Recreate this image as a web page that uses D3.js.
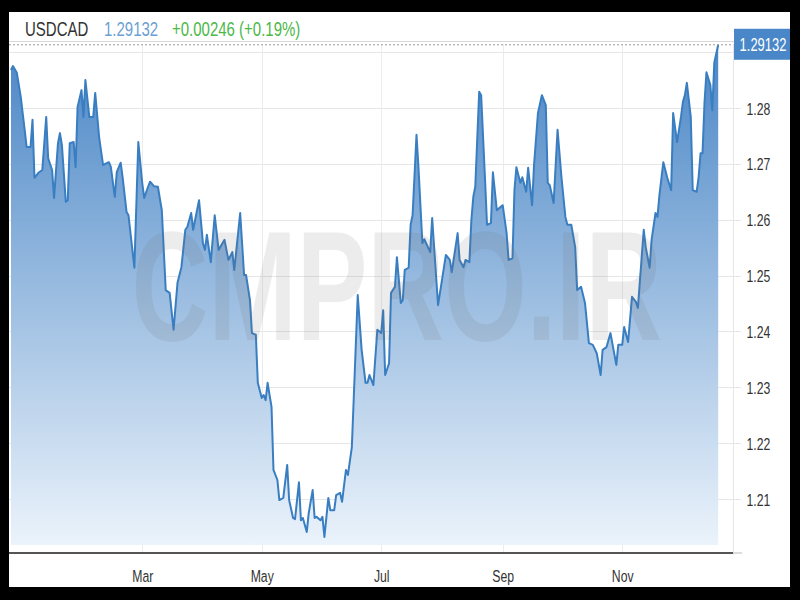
<!DOCTYPE html>
<html>
<head>
<meta charset="utf-8">
<script src="https://cdn.jsdelivr.net/npm/d3@7"></script>
<style>
  html, body { margin: 0; padding: 0; background: #000; }
  svg { display: block; }
  text { font-family: "Liberation Sans", Arial, sans-serif; }
</style>
</head>
<body>
<svg id="chart" width="800" height="600"></svg>
<script>
// ---------- DATA ----------
const symbol = "USDCAD";
const lastPrice = "1.29132";
const change = "+0.00246 (+0.19%)";

const dates = [
  "2020-12-24","2020-12-25","2020-12-27","2020-12-29","2020-12-31","2021-01-01","2021-01-03","2021-01-04","2021-01-05","2021-01-07",
  "2021-01-09","2021-01-11","2021-01-12","2021-01-14","2021-01-15","2021-01-17","2021-01-18","2021-01-19","2021-01-21","2021-01-22",
  "2021-01-23","2021-01-25","2021-01-26","2021-01-27","2021-01-29","2021-01-30","2021-01-31","2021-02-02","2021-02-04","2021-02-05",
  "2021-02-07","2021-02-09","2021-02-12","2021-02-13","2021-02-15","2021-02-16","2021-02-18","2021-02-19","2021-02-21","2021-02-22",
  "2021-02-25","2021-02-27","2021-03-01","2021-03-02","2021-03-04","2021-03-05","2021-03-07","2021-03-09","2021-03-11","2021-03-13",
  "2021-03-15","2021-03-17","2021-03-19","2021-03-21","2021-03-23","2021-03-24","2021-03-26","2021-03-27","2021-03-30","2021-04-01",
  "2021-04-02","2021-04-03","2021-04-05","2021-04-07","2021-04-09","2021-04-12","2021-04-14","2021-04-16","2021-04-17","2021-04-20",
  "2021-04-22","2021-04-23","2021-04-25","2021-04-26","2021-04-28","2021-04-29","2021-05-01","2021-05-02","2021-05-03","2021-05-04",
  "2021-05-06","2021-05-07","2021-05-09","2021-05-10","2021-05-12","2021-05-14","2021-05-15","2021-05-17","2021-05-18","2021-05-20",
  "2021-05-21","2021-05-22","2021-05-24","2021-05-25","2021-05-27","2021-05-28","2021-05-29","2021-05-31","2021-06-01","2021-06-02",
  "2021-06-04","2021-06-05","2021-06-07","2021-06-08","2021-06-10","2021-06-11","2021-06-13","2021-06-14","2021-06-16","2021-06-17",
  "2021-06-19","2021-06-21","2021-06-23","2021-06-24","2021-06-25","2021-06-27","2021-06-29","2021-07-01","2021-07-02","2021-07-03",
  "2021-07-05","2021-07-06","2021-07-08","2021-07-09","2021-07-11","2021-07-12","2021-07-13","2021-07-15","2021-07-16","2021-07-17",
  "2021-07-19","2021-07-20","2021-07-22","2021-07-23","2021-07-26","2021-07-27","2021-07-30","2021-08-01","2021-08-03","2021-08-05",
  "2021-08-06","2021-08-09","2021-08-10","2021-08-12","2021-08-13","2021-08-15","2021-08-16","2021-08-17","2021-08-18","2021-08-20",
  "2021-08-21","2021-08-23","2021-08-24","2021-08-26","2021-08-27","2021-08-29","2021-08-31","2021-09-01","2021-09-03","2021-09-04",
  "2021-09-06","2021-09-07","2021-09-08","2021-09-10","2021-09-11","2021-09-13","2021-09-14","2021-09-16","2021-09-17","2021-09-19",
  "2021-09-21","2021-09-23","2021-09-24","2021-09-25","2021-09-27","2021-09-29","2021-10-01","2021-10-03","2021-10-04","2021-10-06",
  "2021-10-08","2021-10-09","2021-10-11","2021-10-13","2021-10-15","2021-10-17","2021-10-19","2021-10-21","2021-10-22","2021-10-24",
  "2021-10-26","2021-10-29","2021-10-30","2021-11-01","2021-11-02","2021-11-04","2021-11-06","2021-11-08","2021-11-09","2021-11-12",
  "2021-11-13","2021-11-15","2021-11-16","2021-11-18","2021-11-19","2021-11-20","2021-11-22","2021-11-24","2021-11-26","2021-11-27",
  "2021-11-29","2021-12-01","2021-12-02","2021-12-03","2021-12-04","2021-12-06","2021-12-07","2021-12-09","2021-12-10","2021-12-11",
  "2021-12-12","2021-12-13","2021-12-14","2021-12-16","2021-12-17","2021-12-18","2021-12-20"
];

const values = [
  1.2868,1.2875,1.2863,1.2820,1.2761,1.2730,1.2730,1.2779,1.2675,1.2684,
  1.2689,1.2784,1.2710,1.2689,1.2639,1.2737,1.2755,1.2734,1.2632,1.2635,
  1.2737,1.2739,1.2694,1.2802,1.2832,1.2784,1.2850,1.2784,1.2784,1.2827,
  1.2748,1.2698,1.2703,1.2694,1.2641,1.2685,1.2702,1.2676,1.2614,1.2608,
  1.2514,1.2739,1.2666,1.2639,1.2659,1.2668,1.2660,1.2659,1.2617,1.2474,
  1.2469,1.2403,1.2487,1.2515,1.2582,1.2587,1.2612,1.2582,1.2635,1.2558,
  1.2546,1.2573,1.2524,1.2608,1.2546,1.2564,1.2528,1.2542,1.2510,1.2612,
  1.2501,1.2501,1.2456,1.2397,1.2394,1.2308,1.2281,1.2286,1.2277,1.2308,
  1.2265,1.2152,1.2134,1.2098,1.2102,1.2161,1.2098,1.2066,1.2064,1.2130,
  1.2062,1.2066,1.2041,1.2075,1.2116,1.2066,1.2068,1.2062,1.2068,1.2032,
  1.2102,1.2080,1.2080,1.2107,1.2111,1.2095,1.2152,1.2143,1.2193,1.2283,
  1.2465,1.2367,1.2308,1.2308,1.2322,1.2304,1.2403,1.2397,1.2438,1.2322,
  1.2343,1.2469,1.2480,1.2533,1.2451,1.2456,1.2510,1.2514,1.2591,1.2608,
  1.2752,1.2694,1.2558,1.2565,1.2542,1.2603,1.2447,1.2492,1.2537,1.2528,
  1.2506,1.2576,1.2528,1.2515,1.2528,1.2524,1.2599,1.2641,1.2659,1.2829,
  1.2823,1.2671,1.2591,1.2594,1.2685,1.2617,1.2623,1.2626,1.2576,1.2528,
  1.2531,1.2653,1.2694,1.2666,1.2676,1.2650,1.2693,1.2626,1.2698,1.2791,
  1.2823,1.2805,1.2666,1.2662,1.2630,1.2761,1.2676,1.2605,1.2591,1.2591,
  1.2551,1.2474,1.2480,1.2451,1.2379,1.2376,1.2361,1.2322,1.2367,1.2372,
  1.2397,1.2340,1.2376,1.2376,1.2408,1.2381,1.2462,1.2453,1.2442,1.2582,
  1.2551,1.2514,1.2564,1.2612,1.2605,1.2644,1.2703,1.2675,1.2653,1.2791,
  1.2739,1.2784,1.2811,1.2823,1.2845,1.2784,1.2653,1.2650,1.2676,1.2719,
  1.2719,1.2809,1.2864,1.2841,1.2796,1.2881,1.29132
];

const yTicks = [1.21, 1.22, 1.23, 1.24, 1.25, 1.26, 1.27, 1.28, 1.29];
const xTickDates = ["2021-03-01","2021-05-01","2021-07-01","2021-09-01","2021-11-01"];
const xTickLabels = ["Mar","May","Jul","Sep","Nov"];
const watermark = "CMPRO.IR";

// ---------- LAYOUT ----------
const parse = d3.utcParse("%Y-%m-%d");
const data = dates.map((d, i) => ({ date: parse(d), value: values[i] }));

const left = 9, plotRight = 733, axisY = 553, fillBottom = 545, gridTop = 44;
const SX = 0.72; // horizontal text compression seen in the picture

const x = d3.scaleUtc()
  .domain([parse("2020-12-23"), parse("2021-12-20")])
  .range([left, 718.2]);
const y = d3.scaleLinear()
  .domain([1.21, 1.28])
  .range([499, 108]);

const svg = d3.select("#chart");

// frame
svg.append("rect").attr("width", 800).attr("height", 600).attr("fill", "#000");
svg.append("rect").attr("x", 9).attr("y", 12).attr("width", 781).attr("height", 575).attr("fill", "#fff");

// gradient
const defs = svg.append("defs");
const grad = defs.append("linearGradient").attr("id", "fillGrad")
  .attr("gradientUnits", "userSpaceOnUse")
  .attr("x1", 0).attr("x2", 0).attr("y1", gridTop).attr("y2", fillBottom);
grad.append("stop").attr("offset", "0%").attr("stop-color", "#4a86c6");
grad.append("stop").attr("offset", "100%").attr("stop-color", "#ebf3fb");

// header
const header = [
  { t: symbol, x: 25, c: "#333333" },
  { t: lastPrice, x: 104, c: "#6c9fd3" },
  { t: change, x: 172, c: "#4cb848" }
];
header.forEach(h => {
  svg.append("text")
    .attr("transform", `translate(${h.x},36) scale(0.75,1)`)
    .attr("font-size", 20).attr("fill", h.c).text(h.t);
});
svg.append("line").attr("x1", 9).attr("x2", 790).attr("y1", 41.5).attr("y2", 41.5)
  .attr("stroke", "#d8d8d8").attr("stroke-width", 1);

// horizontal gridlines
svg.append("g").selectAll("line").data(yTicks).join("line")
  .attr("x1", left).attr("x2", 741)
  .attr("y1", d => Math.round(y(d)) + 0.5).attr("y2", d => Math.round(y(d)) + 0.5)
  .attr("stroke", "#e6e6e6").attr("stroke-width", 1);

// vertical gridlines
const xTickVals = xTickDates.map(parse);
svg.append("g").selectAll("line").data(xTickVals).join("line")
  .attr("x1", d => Math.round(x(d)) + 0.5).attr("x2", d => Math.round(x(d)) + 0.5)
  .attr("y1", gridTop).attr("y2", axisY)
  .attr("stroke", "#ececec").attr("stroke-width", 1);
svg.append("line").attr("x1", plotRight + 0.5).attr("x2", plotRight + 0.5)
  .attr("y1", gridTop).attr("y2", axisY + 2)
  .attr("stroke", "#e6e6e6").attr("stroke-width", 1);

// area + line
const area = d3.area().x(d => x(d.date)).y0(fillBottom).y1(d => y(d.value));
const line = d3.line().x(d => x(d.date)).y(d => y(d.value));
svg.append("path").datum(data).attr("d", area).attr("fill", "url(#fillGrad)");
svg.append("path").datum(data).attr("d", line)
  .attr("fill", "none").attr("stroke", "#3a7ec2").attr("stroke-width", 2)
  .attr("stroke-linejoin", "round");

// watermark
svg.append("text")
  .attr("transform", "translate(397,340) scale(0.68,1)")
  .attr("text-anchor", "middle").attr("font-size", 156).attr("font-weight", "bold")
  .attr("fill", "rgba(110,110,110,0.13)").text(watermark);

// current price dotted line
const last = data[data.length - 1];
svg.append("line").attr("x1", left).attr("x2", plotRight)
  .attr("y1", y(last.value)).attr("y2", y(last.value))
  .attr("stroke", "#9a9a9a").attr("stroke-width", 1).attr("stroke-dasharray", "2,2");

// x axis line
svg.append("line").attr("x1", left).attr("x2", plotRight).attr("y1", axisY).attr("y2", axisY)
  .attr("stroke", "#555").attr("stroke-width", 2);
svg.append("line").attr("x1", plotRight).attr("x2", 742).attr("y1", axisY).attr("y2", axisY)
  .attr("stroke", "#dcdcdc").attr("stroke-width", 2);

// x axis labels (via d3 axis)
const xAxis = d3.axisBottom(x).tickValues(xTickVals)
  .tickFormat((d, i) => xTickLabels[i]).tickSize(0).tickPadding(0);
const gx = svg.append("g").attr("transform", "translate(0,582)").call(xAxis);
gx.select(".domain").remove();
gx.selectAll("text").attr("y", 0).attr("dy", 0)
  .attr("transform", `scale(${SX},1)`)
  .attr("font-size", 17).attr("fill", "#333")
  .style("font-family", '"Liberation Sans", Arial, sans-serif');

// y axis labels (via d3 axis)
const yAxis = d3.axisRight(y).tickValues(yTicks.filter(v => v < 1.285))
  .tickFormat(d3.format(".2f")).tickSize(0).tickPadding(0);
const gy = svg.append("g").attr("transform", "translate(746.5,0)").call(yAxis);
gy.select(".domain").remove();
gy.selectAll("text").attr("x", 0).attr("dy", "0.36em")
  .attr("transform", `scale(${SX},1)`)
  .attr("font-size", 17).attr("fill", "#333").attr("text-anchor", "start")
  .style("font-family", '"Liberation Sans", Arial, sans-serif');

// current price label box
const py = y(last.value);
svg.append("rect").attr("x", 734).attr("y", py - 16).attr("width", 56).attr("height", 31)
  .attr("fill", "#4a87c8");
svg.append("text")
  .attr("transform", `translate(763,${py + 6}) scale(${SX},1)`)
  .attr("text-anchor", "middle").attr("font-size", 18).attr("fill", "#fff")
  .text(lastPrice);
</script>
</body>
</html>
